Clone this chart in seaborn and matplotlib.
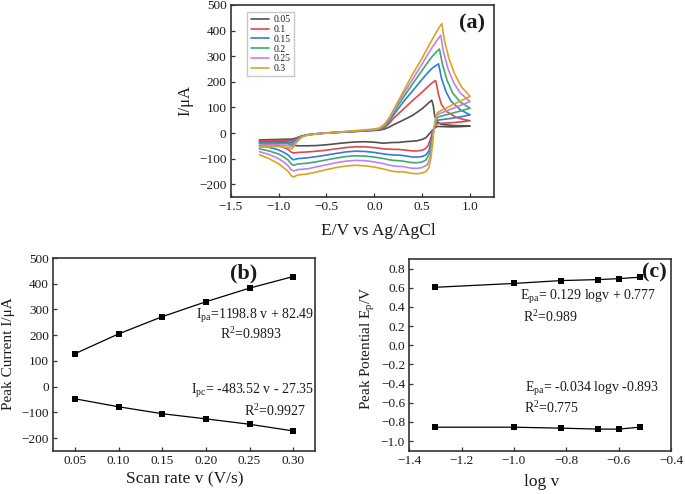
import numpy as np
import pandas as pd
import matplotlib
matplotlib.use("Agg")
import matplotlib.pyplot as plt
import seaborn as sns

# ---------------- data ----------------
scan_rates = ["0.05", "0.1", "0.15", "0.2", "0.25", "0.3"]
cv_colors = ["#505050", "#e2474b", "#2e7fd6", "#3aab6c", "#c47ef0", "#d9a521"]

# forward (anodic) sweep, common potentials
E_fwd = [-1.2, -1.1, -1.0, -0.9, -0.86, -0.82, -0.76, -0.7, -0.6, -0.5, -0.4,
         -0.3, -0.2, -0.1, 0.0, 0.05, 0.1, 0.15, 0.2, 0.3, 0.4, 0.5]
I_fwd_005 = [-27, -26, -25, -24, -24, -20, -12, -7, -3, 0, 2, 4, 6, 8, 10, 11, 15, 22, 32, 50, 69, 95]
I_fwd_010 = [-31, -30, -29, -29, -30, -22, -12, -7, -3, 0, 2, 4, 6, 8, 11, 13, 20, 35, 57, 92, 127, 160]
I_fwd_015 = [-36, -35, -34, -35, -37, -25, -13, -7, -3, 0, 2, 4, 7, 9, 12, 14, 24, 42, 70, 120, 165, 210]
I_fwd_020 = [-42, -41, -40, -42, -45, -30, -14, -8, -3, 0, 3, 5, 7, 10, 13, 16, 27, 48, 80, 137, 192, 245]
I_fwd_025 = [-48, -47, -46, -49, -53, -35, -15, -8, -3, 0, 3, 5, 8, 11, 14, 17, 30, 52, 85, 150, 210, 270]
I_fwd_030 = [-55, -54, -53, -57, -62, -40, -16, -9, -3, 0, 3, 6, 9, 12, 16, 19, 33, 56, 90, 160, 230, 293]

# apex region (anodic peak, switching at 1.0 V, start of reverse sweep)
E_apex_005 = [0.55, 0.58, 0.60, 0.615, 0.63, 0.65, 0.7, 0.8, 0.9, 1.0, 0.9, 0.8, 0.7, 0.66, 0.64, 0.6, 0.57, 0.54, 0.5, 0.45]
I_apex_005 = [112, 122, 128, 108, 68, 45, 34, 30, 28, 27, 25, 24, 25, 26, 22, 8, -5, -18, -25, -30]
E_apex_010 = [0.55, 0.6, 0.64, 0.655, 0.67, 0.7, 0.75, 0.85, 0.92, 1.0, 0.9, 0.8, 0.7, 0.66, 0.64, 0.61, 0.585, 0.56, 0.53, 0.5, 0.45]
I_apex_010 = [178, 195, 205, 180, 150, 112, 85, 62, 54, 48, 43, 40, 38, 37, 30, 8, -25, -50, -62, -67, -70]
E_apex_015 = [0.55, 0.6, 0.65, 0.67, 0.685, 0.7, 0.75, 0.8, 0.9, 1.0, 0.9, 0.8, 0.7, 0.66, 0.64, 0.615, 0.595, 0.57, 0.54, 0.5, 0.45]
I_apex_015 = [232, 252, 265, 270, 245, 215, 160, 125, 90, 71, 63, 57, 52, 50, 38, 10, -30, -70, -85, -92, -94]
E_apex_020 = [0.55, 0.6, 0.65, 0.68, 0.695, 0.71, 0.76, 0.82, 0.9, 1.0, 0.9, 0.8, 0.7, 0.66, 0.64, 0.62, 0.6, 0.57, 0.54, 0.5, 0.45]
I_apex_020 = [272, 297, 318, 328, 300, 270, 205, 155, 120, 97, 86, 76, 66, 62, 45, 10, -40, -85, -105, -113, -116]
E_apex_025 = [0.55, 0.6, 0.65, 0.694, 0.707, 0.72, 0.77, 0.83, 0.9, 1.0, 0.9, 0.8, 0.7, 0.66, 0.64, 0.62, 0.6, 0.58, 0.55, 0.5, 0.45]
I_apex_025 = [302, 332, 360, 382, 350, 320, 250, 195, 155, 123, 108, 93, 78, 72, 50, 10, -50, -100, -125, -135, -138]
E_apex_030 = [0.55, 0.6, 0.65, 0.69, 0.705, 0.718, 0.73, 0.78, 0.84, 0.91, 1.0, 0.9, 0.8, 0.7, 0.66, 0.64, 0.62, 0.61, 0.59, 0.57, 0.54, 0.5, 0.45]
I_apex_030 = [328, 362, 395, 420, 427, 395, 365, 290, 230, 180, 143, 125, 107, 88, 80, 55, 12, -40, -100, -135, -150, -156, -159]

# reverse (cathodic) sweep, common potentials
E_rev = [0.4, 0.35, 0.3, 0.25, 0.2, 0.15, 0.1, 0.0, -0.1, -0.2, -0.3, -0.4, -0.5,
         -0.6, -0.7, -0.8, -0.845, -0.87, -0.9, -0.95, -1.0, -1.1, -1.2]
I_rev_005 = [-32, -33, -35, -37, -37, -38, -40, -36, -34, -35, -38, -42, -46, -49, -50, -50, -48, -45, -40, -37, -36, -34, -33]
I_rev_010 = [-70, -68, -66, -64, -64, -63, -62, -57, -54, -54, -57, -62, -67, -71, -74, -76, -78, -74, -64, -56, -50, -44, -41]
I_rev_015 = [-94, -91, -88, -86, -86, -84, -82, -76, -72, -71, -74, -80, -86, -92, -97, -100, -105, -98, -86, -75, -66, -56, -50]
I_rev_020 = [-116, -113, -110, -108, -107, -104, -100, -94, -90, -89, -92, -98, -105, -112, -118, -121, -126, -120, -106, -93, -82, -70, -62]
I_rev_025 = [-138, -135, -131, -130, -129, -125, -120, -113, -108, -107, -110, -116, -124, -132, -140, -143, -148, -143, -128, -112, -100, -84, -73]
I_rev_030 = [-158, -155, -151, -152, -150, -146, -141, -133, -128, -126, -129, -135, -143, -152, -160, -164, -172, -166, -150, -135, -120, -100, -85]

# panel (b)
scan_rate_v = [0.05, 0.10, 0.15, 0.20, 0.25, 0.30]
I_pa = [128, 205, 272, 330, 383, 428]
I_pc = [-47, -78, -105, -125, -146, -172]

# panel (c)
log_v = [-1.30, -1.00, -0.82, -0.68, -0.60, -0.52]
E_pa = [0.605, 0.645, 0.675, 0.685, 0.695, 0.710]
E_pc = [-0.855, -0.855, -0.865, -0.875, -0.875, -0.855]

# ---------------- style ----------------
sns.set_theme(style="ticks")
plt.rcParams["font.family"] = ["Liberation Serif", "DejaVu Serif"]
plt.rcParams["mathtext.fontset"] = "custom"
plt.rcParams["mathtext.rm"] = "Liberation Serif"
plt.rcParams["mathtext.it"] = "Liberation Serif:italic"
plt.rcParams["axes.edgecolor"] = "#333333"
plt.rcParams["axes.linewidth"] = 1.2
plt.rcParams["xtick.color"] = "#333333"
plt.rcParams["ytick.color"] = "#333333"
plt.rcParams["xtick.labelcolor"] = "#1a1a1a"
plt.rcParams["ytick.labelcolor"] = "#1a1a1a"
plt.rcParams["xtick.major.size"] = 3
plt.rcParams["ytick.major.size"] = 3
plt.rcParams["text.color"] = "#1a1a1a"
plt.rcParams["axes.labelcolor"] = "#1a1a1a"

TICK_FS = 9.5
XLABEL_FS = 12.5
YLABEL_FS = 11
ANN_FS = 10
PANEL_FS = 16

fig = plt.figure(figsize=(6.85, 4.94), dpi=100)
ax_a = fig.add_axes([0.3368, 0.6012, 0.7212 - 0.3368, 0.9899 - 0.6012])
ax_b = fig.add_axes([0.0774, 0.0870, 0.4599 - 0.0774, 0.4777 - 0.0870])
ax_c = fig.add_axes([0.5975, 0.0877, 0.9796 - 0.5975, 0.4757 - 0.0877])

# ---------------- panel (a) ----------------
fwd = [I_fwd_005, I_fwd_010, I_fwd_015, I_fwd_020, I_fwd_025, I_fwd_030]
apexE = [E_apex_005, E_apex_010, E_apex_015, E_apex_020, E_apex_025, E_apex_030]
apexI = [I_apex_005, I_apex_010, I_apex_015, I_apex_020, I_apex_025, I_apex_030]
rev = [I_rev_005, I_rev_010, I_rev_015, I_rev_020, I_rev_025, I_rev_030]
rows = []
for k, r in enumerate(scan_rates):
    E = list(E_fwd) + list(apexE[k]) + list(E_rev)
    I = list(fwd[k]) + list(apexI[k]) + list(rev[k])
    for j, (e, i) in enumerate(zip(E, I)):
        rows.append({"E": e, "I": i, "rate": r, "order": j})
cv = pd.DataFrame(rows)
sns.lineplot(data=cv, x="E", y="I", hue="rate", hue_order=scan_rates,
             palette=cv_colors, sort=False, estimator=None,
             linewidth=1.2, ax=ax_a)
ax_a.set_xlim(-1.5, 1.25)
ax_a.set_ylim(-250, 500)
ax_a.set_xticks([-1.5, -1.0, -0.5, 0.0, 0.5, 1.0])
ax_a.set_yticks([-200, -100, 0, 100, 200, 300, 400, 500])
ax_a.set_xlabel("E/V vs Ag/AgCl", fontsize=XLABEL_FS)
ax_a.set_ylabel("I/μA", fontsize=12)
ax_a.xaxis.set_label_coords(0.559, -0.135)
ax_a.yaxis.set_label_coords(-0.143, 0.5)
handles, labels = ax_a.get_legend_handles_labels()
ax_a.legend(handles, labels, loc="upper left", bbox_to_anchor=(0.045, 0.99),
            fontsize=7, frameon=True, fancybox=False, edgecolor="#bbbbbb",
            handlelength=1.9, handletextpad=0.4, labelspacing=0.08,
            borderpad=0.35, title=None)
ax_a.text(0.916, 0.905, "(a)", transform=ax_a.transAxes, fontsize=PANEL_FS,
          fontweight="bold", ha="center", va="center")

# ---------------- panel (b) ----------------
dfb = pd.DataFrame({"v": scan_rate_v * 2, "I": I_pa + I_pc,
                    "peak": ["pa"] * len(I_pa) + ["pc"] * len(I_pc)})
sns.lineplot(data=dfb, x="v", y="I", units="peak", estimator=None, color="black",
             marker="s", markersize=4.5, markeredgewidth=0, linewidth=0.9, ax=ax_b)
ax_b.set_xlim(0.025, 0.325)
ax_b.set_ylim(-250, 500)
ax_b.set_xticks([0.05, 0.10, 0.15, 0.20, 0.25, 0.30])
ax_b.set_xticklabels(["0.05", "0.10", "0.15", "0.20", "0.25", "0.30"])
ax_b.set_yticks([-200, -100, 0, 100, 200, 300, 400, 500])
ax_b.set_xlabel("Scan rate v (V/s)", fontsize=XLABEL_FS)
ax_b.set_ylabel("Peak Current I/μA", fontsize=YLABEL_FS)
ax_b.xaxis.set_label_coords(0.504, -0.105)
ax_b.yaxis.set_label_coords(-0.145, 0.503)
ax_b.text(0.729, 0.921, "(b)", transform=ax_b.transAxes, fontsize=PANEL_FS,
          fontweight="bold", ha="center", va="center")
ax_b.text(0.997, 0.70, r"I$_{\rm pa}$=1198.8 v + 82.49", transform=ax_b.transAxes,
          fontsize=ANN_FS, ha="right", va="center")
ax_b.text(0.874, 0.607, r"R$^{2}$=0.9893", transform=ax_b.transAxes,
          fontsize=ANN_FS, ha="right", va="center")
ax_b.text(0.997, 0.31, r"I$_{\rm pc}$= -483.52 v - 27.35", transform=ax_b.transAxes,
          fontsize=ANN_FS, ha="right", va="center")
ax_b.text(0.966, 0.205, r"R$^{2}$=0.9927", transform=ax_b.transAxes,
          fontsize=ANN_FS, ha="right", va="center")

# ---------------- panel (c) ----------------
dfc = pd.DataFrame({"logv": log_v * 2, "E": E_pa + E_pc,
                    "peak": ["pa"] * len(E_pa) + ["pc"] * len(E_pc)})
sns.lineplot(data=dfc, x="logv", y="E", units="peak", estimator=None, color="black",
             marker="s", markersize=4.5, markeredgewidth=0, linewidth=0.9, ax=ax_c)
ax_c.set_xlim(-1.4, -0.4)
ax_c.set_ylim(-1.1, 0.9)
ax_c.set_xticks([-1.4, -1.2, -1.0, -0.8, -0.6, -0.4])
ax_c.set_yticks([-1.0, -0.8, -0.6, -0.4, -0.2, 0.0, 0.2, 0.4, 0.6, 0.8])
ax_c.set_xlabel("log v", fontsize=XLABEL_FS)
ax_c.set_ylabel(r"Peak Potential E$_{\rm p}$/V", fontsize=YLABEL_FS)
ax_c.xaxis.set_label_coords(0.506, -0.12)
ax_c.yaxis.set_label_coords(-0.125, 0.536)
ax_c.text(0.935, 0.929, "(c)", transform=ax_c.transAxes, fontsize=PANEL_FS,
          fontweight="bold", ha="center", va="center")
ax_c.text(0.424, 0.80, r"E$_{\rm pa}$= 0.129 logv + 0.777", transform=ax_c.transAxes,
          fontsize=ANN_FS, ha="left", va="center")
ax_c.text(0.436, 0.695, r"R$^{2}$=0.989", transform=ax_c.transAxes,
          fontsize=ANN_FS, ha="left", va="center")
ax_c.text(0.442, 0.32, r"E$_{\rm pa}$= -0.034 logv -0.893", transform=ax_c.transAxes,
          fontsize=ANN_FS, ha="left", va="center")
ax_c.text(0.438, 0.22, r"R$^{2}$=0.775", transform=ax_c.transAxes,
          fontsize=ANN_FS, ha="left", va="center")

for ax in (ax_a, ax_b, ax_c):
    ax.tick_params(labelsize=TICK_FS, direction="in", width=0.9, pad=3)
    for s in ax.spines.values():
        s.set_visible(True)

fig.savefig("out.png", dpi=100)
